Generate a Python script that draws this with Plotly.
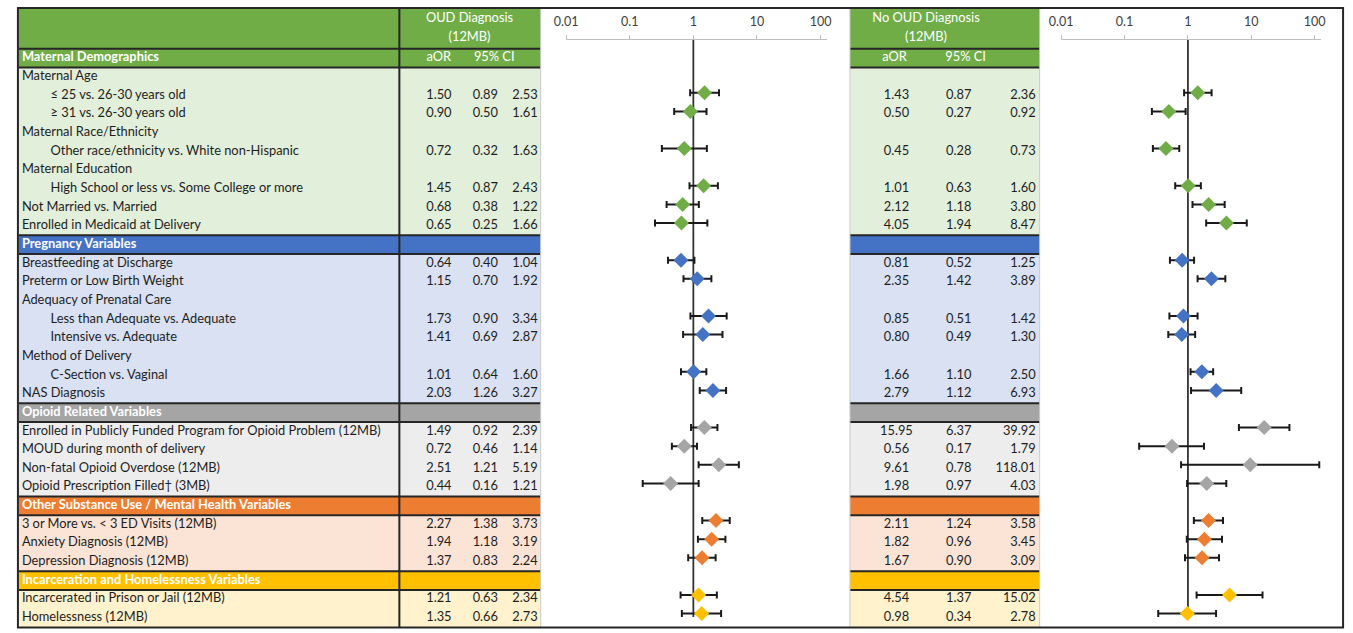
import glob
import plotly.graph_objects as go

W, H = 1353, 633

# ---------------- data ----------------
labels = [
    "Maternal Demographics",
    "Maternal Age",
    "≤ 25 vs. 26-30 years old",
    "≥ 31 vs. 26-30 years old",
    "Maternal Race/Ethnicity",
    "Other race/ethnicity vs. White non-Hispanic",
    "Maternal Education",
    "High School or less vs. Some College or more",
    "Not Married vs. Married",
    "Enrolled in Medicaid at Delivery",
    "Pregnancy Variables",
    "Breastfeeding at Discharge",
    "Preterm or Low Birth Weight",
    "Adequacy of Prenatal Care",
    "Less than Adequate vs. Adequate",
    "Intensive vs. Adequate",
    "Method of Delivery",
    "C-Section vs. Vaginal",
    "NAS Diagnosis",
    "Opioid Related Variables",
    "Enrolled in Publicly Funded Program for Opioid Problem (12MB)",
    "MOUD during month of delivery",
    "Non-fatal Opioid Overdose (12MB)",
    "Opioid Prescription Filled† (3MB)",
    "Other Substance Use / Mental Health Variables",
    "3 or More vs. < 3 ED Visits (12MB)",
    "Anxiety Diagnosis (12MB)",
    "Depression Diagnosis (12MB)",
    "Incarceration and Homelessness Variables",
    "Incarcerated in Prison or Jail (12MB)",
    "Homelessness (12MB)",
]
indent = [0, 0, 1, 1, 0, 1, 0, 1, 0, 0,
          0, 0, 0, 0, 1, 1, 0, 1, 0,
          0, 0, 0, 0, 0,
          0, 0, 0, 0,
          0, 0, 0]

oud_aor = [None, None, 1.50, 0.90, None, 0.72, None, 1.45, 0.68, 0.65,
           None, 0.64, 1.15, None, 1.73, 1.41, None, 1.01, 2.03,
           None, 1.49, 0.72, 2.51, 0.44,
           None, 2.27, 1.94, 1.37,
           None, 1.21, 1.35]
oud_lo = [None, None, 0.89, 0.50, None, 0.32, None, 0.87, 0.38, 0.25,
          None, 0.40, 0.70, None, 0.90, 0.69, None, 0.64, 1.26,
          None, 0.92, 0.46, 1.21, 0.16,
          None, 1.38, 1.18, 0.83,
          None, 0.63, 0.66]
oud_hi = [None, None, 2.53, 1.61, None, 1.63, None, 2.43, 1.22, 1.66,
          None, 1.04, 1.92, None, 3.34, 2.87, None, 1.60, 3.27,
          None, 2.39, 1.14, 5.19, 1.21,
          None, 3.73, 3.19, 2.24,
          None, 2.34, 2.73]
no_aor = [None, None, 1.43, 0.50, None, 0.45, None, 1.01, 2.12, 4.05,
          None, 0.81, 2.35, None, 0.85, 0.80, None, 1.66, 2.79,
          None, 15.95, 0.56, 9.61, 1.98,
          None, 2.11, 1.82, 1.67,
          None, 4.54, 0.98]
no_lo = [None, None, 0.87, 0.27, None, 0.28, None, 0.63, 1.18, 1.94,
         None, 0.52, 1.42, None, 0.51, 0.49, None, 1.10, 1.12,
         None, 6.37, 0.17, 0.78, 0.97,
         None, 1.24, 0.96, 0.90,
         None, 1.37, 0.34]
no_hi = [None, None, 2.36, 0.92, None, 0.73, None, 1.60, 3.80, 8.47,
         None, 1.25, 3.89, None, 1.42, 1.30, None, 2.50, 6.93,
         None, 39.92, 1.79, 118.01, 4.03,
         None, 3.58, 3.45, 3.09,
         None, 15.02, 2.78]

sec_start = [0, 10, 19, 24, 28]
sec_end = [9, 18, 23, 27, 30]
sec_dark = ["#70AD47", "#4472C4", "#A5A5A5", "#ED7D31", "#FFC000"]
sec_light = ["#E2EFDA", "#D9E1F2", "#EDEDED", "#FBE4D5", "#FFF2CC"]

tick_vals = [0.01, 0.1, 1, 10, 100]
tick_text = ["0.01", "0.1", "1", "10", "100"]

header_left = ["OUD Diagnosis", "(12MB)"]
header_right = ["No OUD Diagnosis", "(12MB)"]
col_heads = ["aOR", "95% CI"]

# ---------------- layout geometry (pixels) ----------------
FONT = "Lato"
TXT = "#1E1E1E"


def fit_font_size(text, target_px, default):
    """Pick the font size that makes `text` about target_px wide (falls back to default)."""
    try:
        from PIL import ImageFont
        paths = [p for p in glob.glob("/usr/share/fonts/**/*.ttf", recursive=True)
                 if p.endswith("Lato-Regular.ttf")]
        if not paths:
            return default
        f = ImageFont.truetype(paths[0], 100)
        size = target_px * 100.0 / f.getlength(text)
        return max(11.5, min(14.5, size))
    except Exception:
        return default


FS_TXT = fit_font_size(labels[20], 359, 13.0)

T0, TS = 58.1, 18.66          # table rows: centre pixel of row 0, row pitch
F0, FS = 55.6, 18.6           # forest rows
FTOP, FBOT = 40, 627
TAB_TOP, TAB_BOT = 9, 627.2


def px2row(p):
    return (p - T0) / TS


def py(p):
    return 1 - p / H


def px(p):
    return p / W


fig = go.Figure()
shapes = []

blocks = [(7, 535), (848, 1040)]
hdr_y0 = px2row(TAB_TOP)

# top header backgrounds
for x0, x1 in blocks:
    shapes.append(dict(type="rect", xref="x", yref="y", x0=x0, x1=x1, y0=hdr_y0, y1=-0.5,
                       fillcolor="#70AD47", line=dict(width=0), layer="below"))

# section bands
for s0, s1, dk, lt in zip(sec_start, sec_end, sec_dark, sec_light):
    for x0, x1 in blocks:
        shapes.append(dict(type="rect", xref="x", yref="y", x0=x0, x1=x1, y0=s0 - 0.5, y1=s0 + 0.5,
                           fillcolor=dk, line=dict(width=0), layer="below"))
        shapes.append(dict(type="rect", xref="x", yref="y", x0=x0, x1=x1, y0=s0 + 0.5, y1=s1 + 0.5,
                           fillcolor=lt, line=dict(width=0), layer="below"))

# horizontal border lines
hlines = [-0.5]
for s0 in sec_start:
    hlines += [s0 - 0.5, s0 + 0.5]
for yy in sorted(set(hlines)):
    for x0, x1 in blocks:
        shapes.append(dict(type="line", xref="x", yref="y", x0=x0, x1=x1, y0=yy, y1=yy,
                           layer="above", line=dict(color="#262626", width=2)))

# thin grey verticals
for xx in [535, 848, 1040]:
    shapes.append(dict(type="line", xref="paper", yref="paper", x0=px(xx), x1=px(xx),
                       y0=py(TAB_TOP), y1=py(TAB_BOT), layer="above",
                       line=dict(color="#C9C9C9", width=1)))
# black vertical divider
shapes.append(dict(type="line", xref="x", yref="y", x0=392, x1=392, y0=hdr_y0, y1=30.5,
                   layer="above", line=dict(color="#262626", width=2)))
# outer frame
shapes.append(dict(type="rect", xref="paper", yref="paper", x0=px(6), x1=px(1347),
                   y0=py(627.5), y1=py(8), layer="above",
                   line=dict(color="#262626", width=2), fillcolor="rgba(0,0,0,0)"))
# reference lines at OR = 1
for xr in ["x2", "x3"]:
    shapes.append(dict(type="line", xref=xr, yref="paper", x0=1, x1=1, y0=py(617), y1=py(FTOP),
                       layer="below", line=dict(color="#333333", width=1.8)))

# ---------------- table text ----------------
rows = list(range(len(labels)))
is_sec = [r in sec_start for r in rows]


def text_trace(xs, ys, texts, pos, color=TXT, bold=False, size=None):
    return go.Scatter(x=xs, y=ys, text=texts, mode="text", textposition=pos,
                      textfont=dict(family=FONT, size=size or FS_TXT, color=color,
                                    weight="bold" if bold else "normal"),
                      xaxis="x", yaxis="y", hoverinfo="skip", cliponaxis=False, showlegend=False)


# labels
for ind, xpos in [(0, 10), (1, 39)]:
    idx = [r for r in rows if indent[r] == ind and not is_sec[r]]
    fig.add_trace(text_trace([xpos] * len(idx), idx, [labels[r] for r in idx], "middle right"))
fig.add_trace(text_trace([10] * len(sec_start), sec_start, [labels[r] for r in sec_start],
                         "middle right", color="white", bold=True))


# numbers
def fmt(v):
    return f"{v:.2f}"


val_rows = [r for r in rows if oud_aor[r] is not None]
for arr, xpos, pos in [(oud_aor, 432, "middle center"), (oud_lo, 479, "middle center"),
                       (oud_hi, 532, "middle left"),
                       (no_aor, 895, "middle center"), (no_lo, 958, "middle center"),
                       (no_hi, 1036, "middle left")]:
    fig.add_trace(text_trace([xpos] * len(val_rows), val_rows, [fmt(arr[r]) for r in val_rows], pos))

# headers
hy = [px2row(19), px2row(38)]
fig.add_trace(text_trace([463, 463], hy, header_left, "middle center", color="white"))
fig.add_trace(text_trace([925, 925], hy, header_right, "middle center", color="white"))
fig.add_trace(text_trace([432, 488], [0, 0], col_heads, "middle center", color="white"))
fig.add_trace(text_trace([893, 965], [0, 0], col_heads, "middle center", color="white"))

# ---------------- forest plots ----------------
for s0, s1, dk in zip(sec_start, sec_end, sec_dark):
    for aor, lo, hi, xa in [(oud_aor, oud_lo, oud_hi, "x2"), (no_aor, no_lo, no_hi, "x3")]:
        idx = [r for r in range(s0, s1 + 1) if aor[r] is not None]
        fig.add_trace(go.Scatter(
            x=[aor[r] for r in idx], y=idx, mode="markers",
            marker=dict(symbol="diamond", size=11.5, color=dk, line=dict(width=0)),
            error_x=dict(type="data", symmetric=False,
                         array=[hi[r] - aor[r] for r in idx],
                         arrayminus=[aor[r] - lo[r] for r in idx],
                         color="#1A1A1A", thickness=2, width=3.5),
            xaxis=xa, yaxis="y2", hoverinfo="skip", showlegend=False, cliponaxis=False))


def log_axis(left_px, decade_px):
    span = 4.104
    return dict(type="log", range=[-2, -2 + span],
                domain=[px(left_px), px(left_px + span * decade_px)],
                anchor="y2", side="top", showline=True, linecolor="#BFBFBF", linewidth=1,
                ticks="outside", ticklen=4, tickcolor="#BFBFBF", tickwidth=1,
                tickvals=tick_vals, ticktext=tick_text, showgrid=False, zeroline=False,
                ticklabelstandoff=4,
                tickfont=dict(family=FONT, size=12.5, color="#404040"), fixedrange=True)


fig.update_layout(
    width=W, height=H, margin=dict(l=0, r=0, t=0, b=0),
    paper_bgcolor="white", plot_bgcolor="rgba(0,0,0,0)",
    showlegend=False, hovermode=False,
    xaxis=dict(range=[0, W], domain=[0, 1], visible=False, fixedrange=True),
    yaxis=dict(range=[(H - T0) / TS, -T0 / TS], domain=[0, 1], visible=False, fixedrange=True),
    xaxis2=log_axis(560.7, 64.4),
    xaxis3=log_axis(1061.7, 64.15),
    yaxis2=dict(range=[(FBOT - F0) / FS, (FTOP - F0) / FS], domain=[py(FBOT), py(FTOP)],
                anchor="x2", visible=False, fixedrange=True),
    shapes=shapes,
)

fig.write_html("out.html", config={"displayModeBar": False})

# remove the default page margin so the figure sits at the window origin
with open("out.html", encoding="utf-8") as f:
    page = f.read()
page = page.replace("<head>", "<head><style>html,body{margin:0;padding:0;overflow:hidden;}</style>", 1)
with open("out.html", "w", encoding="utf-8") as f:
    f.write(page)
